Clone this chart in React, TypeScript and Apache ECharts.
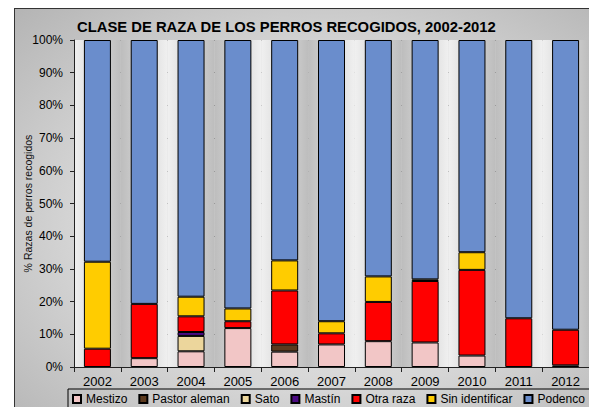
import React, { useEffect, useRef } from "react";
import * as echarts from "echarts";

const years = ["2002", "2003", "2004", "2005", "2006", "2007", "2008", "2009", "2010", "2011", "2012"];
const mestizo = [null, 2.7, 4.8, 11.9, 4.7, 6.9, 7.9, 7.5, 3.5, null, 0.5];
const pastorAleman = [null, null, null, null, 2.2, null, null, null, null, null, null];
const sato = [null, null, 4.7, null, null, null, null, null, null, null, null];
const mastin = [null, null, 1.2, null, null, null, null, null, null, null, null];
const otraRaza = [5.6, 16.6, 4.8, 2.1, 16.5, 3.4, 12.0, 18.8, 26.2, 14.9, 10.9];
const sinIdentificar = [26.6, null, 6.0, 3.9, 9.2, 3.7, 7.8, 0.5, 5.4, null, null];
const podenco = [67.8, 80.7, 78.5, 82.1, 67.4, 86.0, 72.3, 73.2, 64.9, 85.1, 88.6];

const seriesDefs = [
  { name: "Mestizo", data: mestizo, color: "#f2c6c6" },
  { name: "Pastor aleman", data: pastorAleman, color: "#5c3a1e" },
  { name: "Sato", data: sato, color: "#ecd69c" },
  { name: "Mastín", data: mastin, color: "#4b0a82" },
  { name: "Otra raza", data: otraRaza, color: "#ff0000" },
  { name: "Sin identificar", data: sinIdentificar, color: "#ffcc00" },
  { name: "Podenco", data: podenco, color: "#6a8dcc" },
];

const FONT = "'Liberation Sans', Arial, sans-serif";

export default function App() {
  const ref = useRef<HTMLDivElement>(null);
  useEffect(() => {
    if (!ref.current) return;
    const chart = echarts.init(ref.current, null, { renderer: "svg" });
    const gA = new echarts.graphic.LinearGradient(0, 0, 1, 0, [
      { offset: 0, color: "#f0f0f0" },
      { offset: 1, color: "#bdbdbd" },
    ]);
    const gB = new echarts.graphic.LinearGradient(0, 0, 1, 0, [
      { offset: 0, color: "#bdbdbd" },
      { offset: 1, color: "#f0f0f0" },
    ]);
    chart.setOption({
      animation: false,
      textStyle: { fontFamily: FONT },
      title: {
        text: "CLASE DE RAZA DE LOS PERROS RECOGIDOS, 2002-2012",
        left: 72,
        top: 14,
        textStyle: { fontFamily: FONT, fontSize: 14.8, fontWeight: "bold", color: "#000" },
      },
      grid: { left: 74, right: -3, top: 40, bottom: 40, containLabel: false, show: true, backgroundColor: "#d6d6d6", borderWidth: 0 },
      legend: {
        left: 68,
        top: 389,
        width: 700,
        itemWidth: 8,
        itemHeight: 8,
        itemGap: 11,
        padding: [4, 20, 20, 4],
        borderColor: "#000",
        borderWidth: 1,
        icon: "rect",
        textStyle: { fontFamily: FONT, fontSize: 12, color: "#000" },
        data: seriesDefs.map((s) => s.name),
      },
      xAxis: {
        type: "category",
        data: years,
        axisLine: { lineStyle: { color: "#222", width: 1 } },
        axisTick: { show: true, length: 5, lineStyle: { color: "#222" } },
        axisLabel: { fontFamily: FONT, fontSize: 13, color: "#000", margin: 8 },
        splitArea: { show: true, areaStyle: { color: [gA, gB] } },
      },
      yAxis: {
        type: "value",
        min: 0,
        max: 100,
        interval: 10,
        name: "% Razas de perros recogidos",
        nameLocation: "middle",
        nameGap: 41,
        nameMoveOverlap: false,
        nameRotate: 90,
        nameTextStyle: { fontFamily: FONT, fontSize: 10.5, color: "#111" },
        axisLine: { show: true, lineStyle: { color: "#222" } },
        axisTick: { show: true, length: 4, lineStyle: { color: "#222" } },
        axisLabel: { formatter: "{value}%", fontFamily: FONT, fontSize: 12, color: "#000", margin: 11 },
        splitLine: { show: true, lineStyle: { color: "#2a2a2a", width: 1 } },
      },
      series: seriesDefs.map((s) => ({
        name: s.name,
        type: "bar",
        stack: "total",
        barWidth: 27,
        data: s.data,
        itemStyle: { color: s.color, borderColor: "#000", borderWidth: 1 },
      })),
    });
    return () => chart.dispose();
  }, []);
  return (
    <div style={{ position: "absolute", left: 0, top: 0, width: 589, height: 407, overflow: "hidden", background: "#fff" }}>
      <div
        style={{
          position: "absolute",
          left: 14,
          top: 8,
          width: 620,
          height: 430,
          border: "1px solid #333",
          background: "radial-gradient(ellipse at 50% 50%, #ececec 0%, #d6d6d6 55%, #b4b4b4 100%)",
        }}
      />
      <div ref={ref} style={{ position: "absolute", left: 0, top: 0, width: 589, height: 407 }} />
    </div>
  );
}
